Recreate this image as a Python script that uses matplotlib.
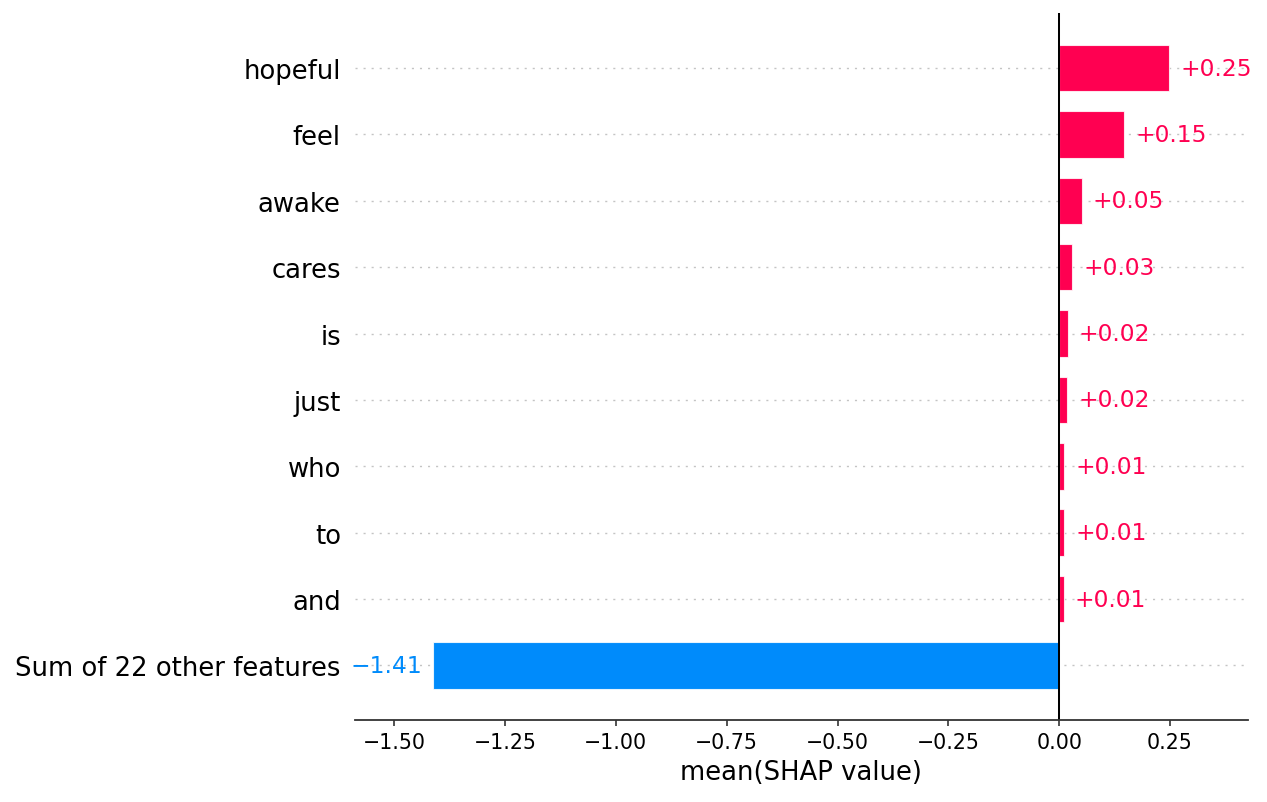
import matplotlib
matplotlib.use("Agg")
import matplotlib.pyplot as plt

# data
features = ["hopeful", "feel", "awake", "cares", "is", "just", "who", "to", "and",
            "Sum of 22 other features"]
values = [0.248, 0.147, 0.051, 0.030, 0.019, 0.018, 0.012, 0.011, 0.010, -1.412]
xticks = [-1.50, -1.25, -1.00, -0.75, -0.50, -0.25, 0.00, 0.25]

red = "#ff0051"
blue = "#008bfb"

fig = plt.figure(figsize=(12.67, 8.03), dpi=100)
ax = fig.add_axes([0.280, 0.1015, 0.705, 0.881])

ypos = list(range(len(features)))
colors = [red if v > 0 else blue for v in values]

for y in ypos:
    ax.axhline(y, color="#c4c4c4", lw=1.0, dashes=(1.5, 4.3), zorder=-1)

ax.barh(ypos, values, height=0.7, color=colors, edgecolor=(1, 1, 1, 0.8), linewidth=0.8)
ax.axvline(0, color="black", lw=1.45, zorder=1)

for y, v, c in zip(ypos, values, colors):
    if v > 0:
        txt = "+%.2f" % v
        ax.annotate(txt, (v, y), xytext=(8, 0), textcoords="offset points",
                    ha="left", va="center", color=c, fontsize=16.8)
    else:
        txt = "\u2212%.2f" % abs(v)
        ax.annotate(txt, (v, y), xytext=(-8, 0), textcoords="offset points",
                    ha="right", va="center", color=c, fontsize=16.8)

ax.set_yticks(ypos)
ax.set_yticklabels(features, fontsize=18.6)
ax.set_ylim(len(features) - 1 + 0.83, -0.83)
ax.set_xlim(-1.589, 0.426)
ax.set_xticks(xticks)
ax.set_xticklabels(["%.2f" % t if t >= 0 else "\u2212%.2f" % abs(t) for t in xticks])
ax.tick_params("x", labelsize=14.8, length=4.5, width=1.2, color="#333333")
ax.tick_params("y", length=0, pad=10)

for s in ["top", "right", "left"]:
    ax.spines[s].set_visible(False)
ax.spines["bottom"].set_color("#333333")
ax.spines["bottom"].set_linewidth(1.3)

ax.set_xlabel("mean(SHAP value)", fontsize=18.6, labelpad=5)

fig.savefig("out.png", dpi=100)
